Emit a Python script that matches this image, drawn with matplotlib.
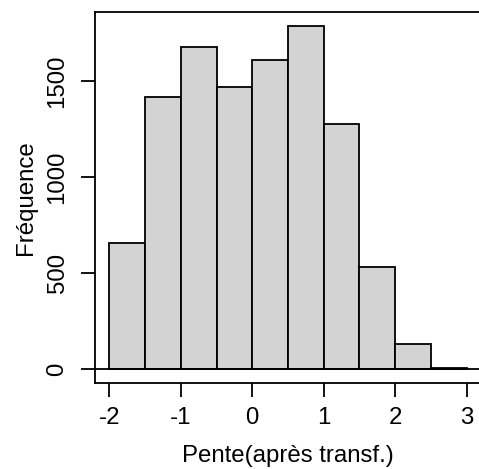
import matplotlib
matplotlib.use("Agg")
import matplotlib.pyplot as plt

plt.rcParams['font.family'] = ['Liberation Sans', 'DejaVu Sans']

bin_edges = [-2.0, -1.5, -1.0, -0.5, 0.0, 0.5, 1.0, 1.5, 2.0, 2.5, 3.0]
counts = [656, 1417, 1675, 1469, 1609, 1787, 1274, 533, 130, 8]
xticks = [-2, -1, 0, 1, 2, 3]
yticks = [0, 500, 1000, 1500]

fig = plt.figure(figsize=(4.79, 4.69), dpi=100)
ax = fig.add_axes([95/479, 1-383/469, (481-95)/479, (383-12)/469])

lefts = bin_edges[:-1]
widths = [b - a for a, b in zip(bin_edges[:-1], bin_edges[1:])]
ax.bar(lefts, counts, width=widths, align='edge', color='#D3D3D3',
       edgecolor='black', linewidth=1.3)
ax.axhline(0, color='black', linewidth=1.3)

xr = bin_edges[-1] - bin_edges[0]
ax.set_xlim(bin_edges[0] - 0.04*xr, bin_edges[-1] + 0.04*xr)
ymax = max(counts)
ax.set_ylim(-0.04*ymax, ymax*1.04)

fs = 17.3
ax.set_xticks(xticks)
ax.set_xticklabels([str(t) for t in xticks])
ax.set_yticks(yticks)
ax.set_yticklabels([str(t) for t in yticks], rotation=90, va='center')

ax.tick_params(axis='both', direction='out', length=10, width=1.3,
               labelsize=fs, colors='black')
ax.tick_params(axis='y', pad=9)
ax.tick_params(axis='x', pad=7)
for s in ax.spines.values():
    s.set_linewidth(1.3)
    s.set_color('black')

ax.set_xlabel('Pente(après transf.)', fontsize=fs, labelpad=12)
ax.set_ylabel('Fréquence', fontsize=fs, labelpad=7)

fig.savefig('out.png', dpi=100)
